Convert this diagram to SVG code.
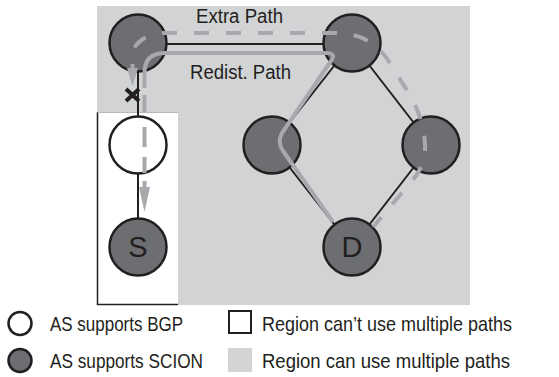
<svg xmlns="http://www.w3.org/2000/svg" width="559" height="377" viewBox="0 0 559 377">
  <style>
    .link { stroke: #231f20; stroke-width: 2; fill: none; }
    .as { stroke: #231f20; stroke-width: 2.5; }
    .scion { fill: #6d6e71; }
    .bgp { fill: #ffffff; }
    .route { stroke: #a7a9ac; stroke-width: 4; fill: none; stroke-linejoin: round; }
    .dashed { stroke-dasharray: 15 17; stroke-dashoffset: 10; }
    .head { fill: #a7a9ac; }
    .lbl { font-family: "Liberation Sans", Arial, sans-serif; fill: #231f20; }
    .path-lbl { font-size: 20px; }
    .node-lbl { font-size: 29px; text-anchor: middle; }
    .legend { font-size: 21px; }
  </style>

  <!-- regions -->
  <g id="regions">
    <rect x="97" y="6" width="373" height="299" fill="#d1d3d4"/>
    <rect x="97" y="112" width="81" height="193" fill="#ffffff"/>
    <path d="M97.5,112 V304.5 H178" fill="none" stroke="#231f20" stroke-width="1.5"/>
    <path d="M97.5,112.5 H178" fill="none" stroke="#b8b9bb" stroke-width="1"/>
  </g>

  <!-- AS links -->
  <g id="connectors">
    <line class="link" x1="166" y1="44" x2="324" y2="44"/>
    <line class="link" x1="138" y1="72" x2="138" y2="116"/>
    <line class="link" x1="138" y1="174" x2="138" y2="218"/>
    <line class="link" x1="352" y1="43" x2="272" y2="145"/>
    <line class="link" x1="352" y1="43" x2="431" y2="145"/>
    <line class="link" x1="272" y1="145" x2="352" y2="247"/>
    <line class="link" x1="431" y1="145" x2="352" y2="247"/>
  </g>

  <!-- autonomous systems -->
  <g id="as-top-left"><circle class="as scion" cx="138" cy="43" r="28.5"/></g>
  <g id="as-top-right"><circle class="as scion" cx="352" cy="43" r="28.5"/></g>
  <g id="as-bgp"><circle class="as bgp" cx="138" cy="145" r="28.5"/></g>
  <g id="as-mid-left"><circle class="as scion" cx="272" cy="145" r="28.5"/></g>
  <g id="as-mid-right"><circle class="as scion" cx="431" cy="145" r="28.5"/></g>
  <g id="as-source">
    <circle class="as scion" cx="138" cy="247" r="28.5"/>
    <text class="lbl node-lbl" x="138" y="257">S</text>
  </g>
  <g id="as-dest">
    <circle class="as scion" cx="352" cy="247" r="28.5"/>
    <text class="lbl node-lbl" x="352" y="257">D</text>
  </g>

  <!-- routes -->
  <g id="routes">
    <!-- extra path (dashed), blocked below the top-left AS -->
    <path class="route dashed" d="M132.5,69 L132.5,52 C136,40 152,33 162,33 L335,33 C360,33 375,42 388,60 L408,92 Q424,118 425,145 Q426,165 412,181 L373,227"/>
    <polygon class="head" points="127,68 138,68 132.5,86"/>
    <!-- redistribution path (solid, then dashed through the BGP AS) -->
    <path class="route" d="M333,222 L283,151 Q277,142 282,133 L331,61 Q337,53 326,53 L165,53 Q144.5,53 144.5,73 L144.5,88"/>
    <path class="route" d="M144.5,95 V112 M144.5,127 V147 M144.5,157 V173 M144.5,181 V190"/>
    <polygon class="head" points="139,187 150,187 144.5,212"/>
  </g>

  <!-- blocked marker -->
  <g id="blocked">
    <path d="M126,89 L139,101 M139,89 L126,101" stroke="#231f20" stroke-width="4" fill="none"/>
  </g>

  <!-- path labels -->
  <g id="path-labels">
    <text class="lbl path-lbl" x="196" y="23" textLength="87" lengthAdjust="spacingAndGlyphs">Extra Path</text>
    <text class="lbl path-lbl" x="190" y="79" textLength="101" lengthAdjust="spacingAndGlyphs">Redist. Path</text>
  </g>

  <!-- legend -->
  <g id="legend">
    <circle cx="20" cy="323.5" r="11.5" fill="#ffffff" stroke="#231f20" stroke-width="2.5"/>
    <circle cx="20" cy="360.5" r="11.5" fill="#6d6e71" stroke="#231f20" stroke-width="2.5"/>
    <rect x="229" y="311" width="22" height="22" fill="#ffffff" stroke="#231f20" stroke-width="2"/>
    <rect x="228" y="348" width="24" height="24" fill="#d1d3d4"/>
    <text class="lbl legend" x="50" y="331" textLength="133" lengthAdjust="spacingAndGlyphs">AS supports BGP</text>
    <text class="lbl legend" x="50" y="368" textLength="153" lengthAdjust="spacingAndGlyphs">AS supports SCION</text>
    <text class="lbl legend" x="262" y="331" textLength="250" lengthAdjust="spacingAndGlyphs">Region can’t use multiple paths</text>
    <text class="lbl legend" x="262" y="368" textLength="248" lengthAdjust="spacingAndGlyphs">Region can use multiple paths</text>
  </g>
</svg>
